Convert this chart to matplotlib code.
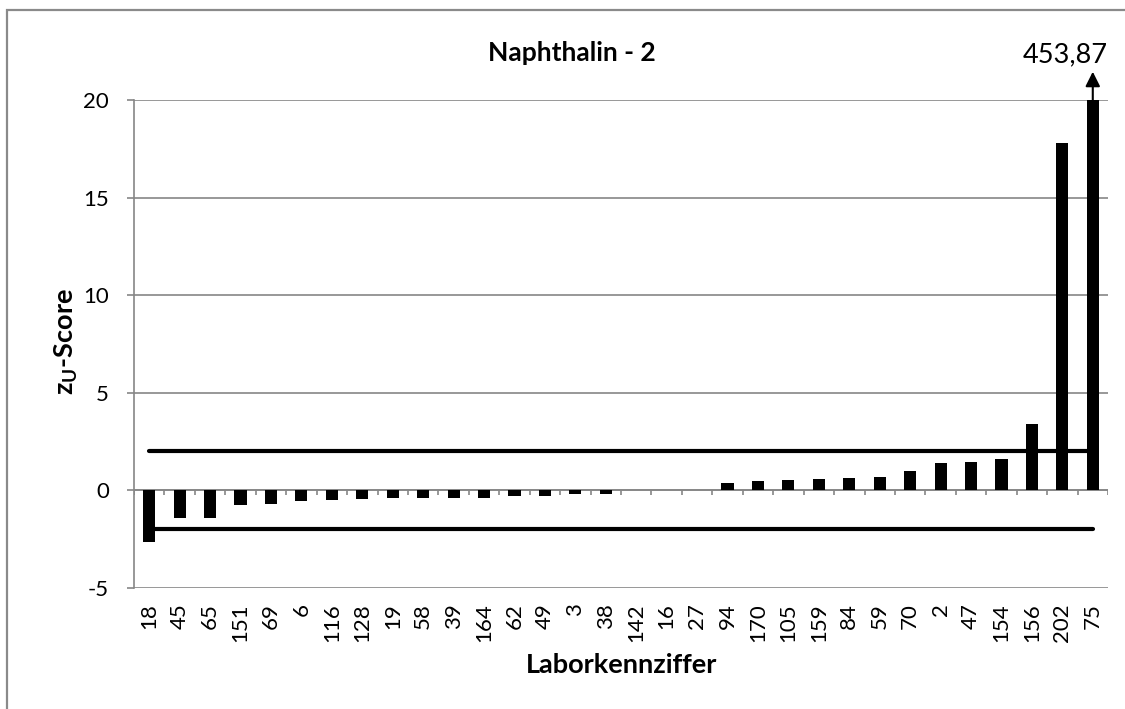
import numpy as np
import matplotlib
matplotlib.use("Agg")
import matplotlib.pyplot as plt
from matplotlib.patches import Rectangle

labs = ["18", "45", "65", "151", "69", "6", "116", "128", "19", "58", "39", "164",
        "62", "49", "3", "38", "142", "16", "27", "94", "170", "105", "159", "84",
        "59", "70", "2", "47", "154", "156", "202", "75"]
zu = np.array([-2.65, -1.43, -1.40, -0.73, -0.68, -0.56, -0.51, -0.44, -0.39, -0.39,
               -0.37, -0.37, -0.29, -0.29, -0.19, -0.20, 0.0, 0.0, 0.0, 0.36,
               0.49, 0.53, 0.58, 0.66, 0.69, 1.00, 1.38, 1.43, 1.60, 3.38,
               17.8, 453.87])
upper = [2] * len(labs)
lower = [-2] * len(labs)
ausreisser = "453,87"

plt.rcParams['font.family'] = ['Lato', 'DejaVu Sans']
plt.rcParams['axes.unicode_minus'] = False
plt.rcParams['mathtext.fontset'] = 'custom'
plt.rcParams['mathtext.rm'] = 'Lato:bold'
plt.rcParams['mathtext.it'] = 'Lato:bold'
plt.rcParams['mathtext.bf'] = 'Lato:bold'

grau = "#868686"
fig = plt.figure(figsize=(11.25, 7.09), dpi=100)
ax = fig.add_axes([134/1125, 1-588/709, (1108-134)/1125, (588-100)/709])

x = np.arange(len(labs))
ax.set_ylim(-5, 20)
ax.set_xlim(-0.5, len(labs) - 0.5)
ax.set_yticks(np.arange(-5, 21, 5))
ax.yaxis.grid(True, color=grau, lw=1.2)
ax.set_axisbelow(True)

ax.bar(x, zu, width=0.4, color="black", zorder=2)
ax.plot(x, upper, color="black", lw=3, solid_capstyle="round", zorder=3)
ax.plot(x, lower, color="black", lw=3, solid_capstyle="round", zorder=3)

# Kategorieachse bei 0
ax.axhline(0, color=grau, lw=1.2, zorder=1)
ax.vlines(np.arange(-0.5, len(labs), 1), -0.26, 0, color=grau, lw=1.2, zorder=1)

# Pfeil fuer abgeschnittenen Wert
ax.annotate("", xy=(x[-1], 21.45), xytext=(x[-1], 20),
            arrowprops=dict(arrowstyle="-|>", color="black", lw=1.5,
                            mutation_scale=22, shrinkA=0, shrinkB=0),
            annotation_clip=False)
ax.text(x[-1] + 0.5, 22.3, ausreisser, ha="right", va="center", fontsize=19.5,
        clip_on=False)

for s in ["top", "right", "bottom"]:
    ax.spines[s].set_visible(False)
ax.spines["left"].set_color(grau)
ax.spines["left"].set_linewidth(1.2)

ax.set_xticks(x)
ax.set_xticklabels(labs, rotation=90, fontsize=16)
ax.tick_params(axis="x", length=0, pad=11)
ax.tick_params(axis="y", length=5, color=grau, width=1.2, labelsize=16, pad=13)

fig.text(572/1125, 1-53/709, "Naphthalin - 2", ha="center", va="center",
         fontsize=19, fontweight="bold")
fig.text(622/1125, 1-665/709, "Laborkennziffer", ha="center", va="center",
         fontsize=19.5, fontweight="bold")
fig.text(66/1125, 1-342/709, "z$_\\mathrm{U}$-Score", ha="center", va="center",
         fontsize=19.5, fontweight="bold", rotation=90)

fig.add_artist(Rectangle((7/1125, -0.2), 1.2, 1.2 - 10/709, transform=fig.transFigure,
                         fill=False, edgecolor="#8a8a8a", lw=1.6))

fig.savefig("out.png", dpi=100)
